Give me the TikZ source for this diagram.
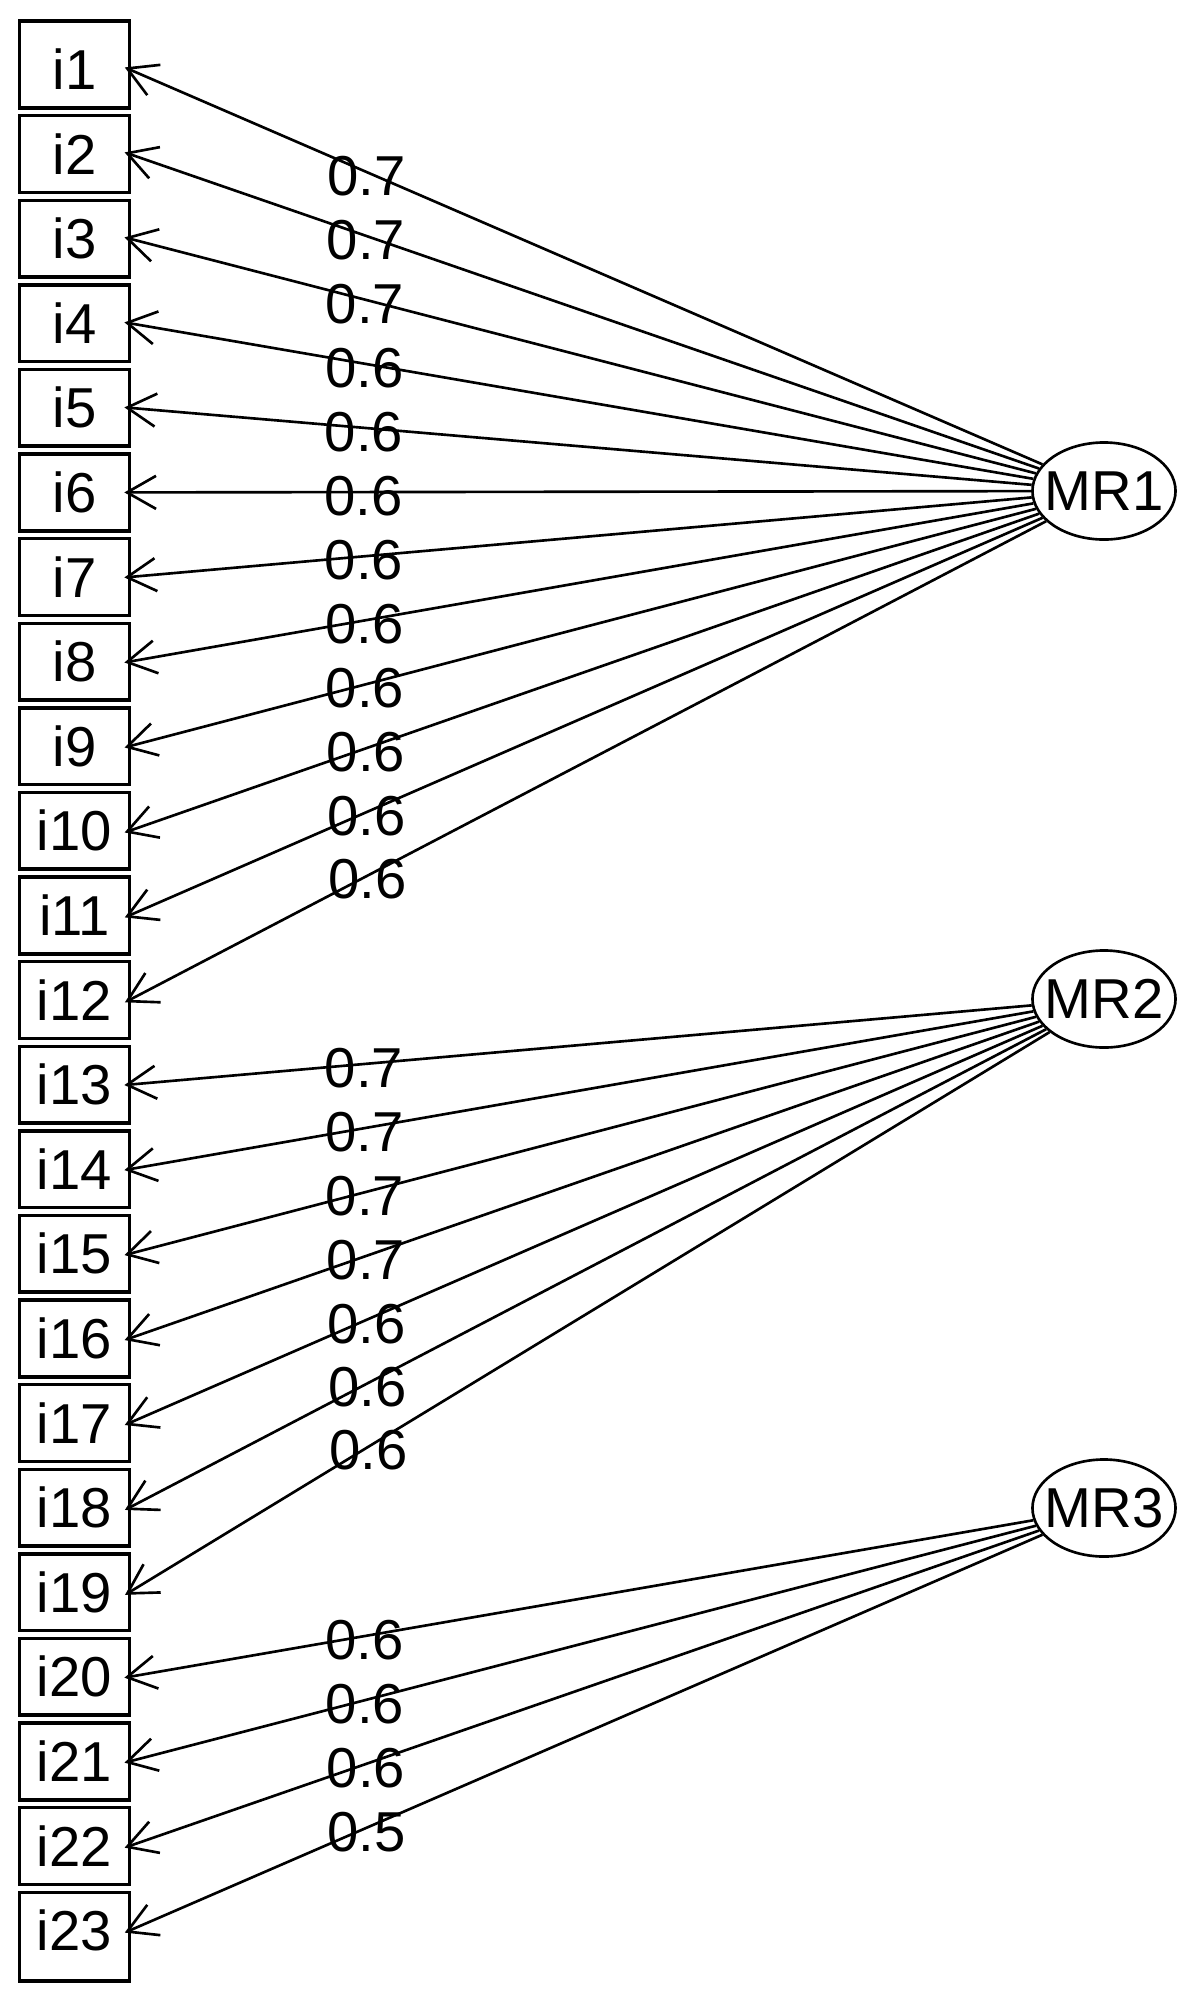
\documentclass[tikz,border=0pt]{standalone}
\usepackage{fontspec}
\setmainfont{Liberation Sans}
\usetikzlibrary{calc,shapes.geometric,arrows.meta}

\begin{document}
\begin{tikzpicture}[x=0.01cm, y=-0.01cm, line width=0.75pt,
font=\fontsize{16}{19}\selectfont,
item/.style={rectangle, minimum width=1.07cm, minimum height=0.74cm, inner sep=0pt},
itemline/.style={line width=1pt},
factor/.style={ellipse, draw, minimum width=1.43cm, minimum height=0.97cm, inner sep=0pt},
load/.style={-{Straight Barb[length=0.29cm, width=0.33cm]}, shorten >=-0.05cm},
val/.style={pos=0.74, yshift=-0.04cm, inner sep=0pt}]
\useasboundingbox (0,0) rectangle (1187,2008);
% observed items
\foreach \k in {1,...,23}
{
    \node[item] (i\k) at (74.5, {69.4+84.6*(\k-1)}) {i\k};
    \pgfmathparse{\k==1 ? 10 : 0}\edef\up{\pgfmathresult}
    \pgfmathparse{\k==23 ? 12 : 0}\edef\dn{\pgfmathresult}
    \draw[itemline] ($(i\k.north west)+(0,-\up)$) rectangle ($(i\k.south east)+(0,\dn)$);
}
% factors
\foreach \f/\y in {1/491, 2/999, 3/1508}
    \node[factor] (MR\f) at (1104,\y) {\makebox[0pt]{MR\f}};
% loadings
\foreach \f/\k/\v in {1/1/0.7, 1/2/0.7, 1/3/0.7, 1/4/0.6, 1/5/0.6, 1/6/0.6,
                      1/7/0.6, 1/8/0.6, 1/9/0.6, 1/10/0.6, 1/11/0.6, 1/12/0.6,
                      2/13/0.7, 2/14/0.7, 2/15/0.7, 2/16/0.7, 2/17/0.6, 2/18/0.6, 2/19/0.6,
                      3/20/0.6, 3/21/0.6, 3/22/0.6, 3/23/0.5}
    \draw[load] (MR\f) -- (i\k.east) node[val] {\v};
\end{tikzpicture}
\end{document}
